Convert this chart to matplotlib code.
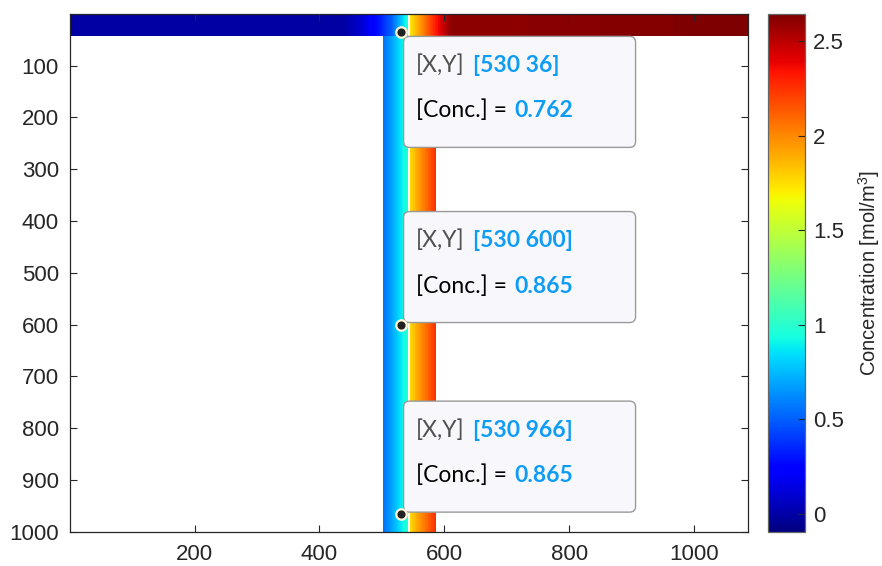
import numpy as np
import matplotlib
matplotlib.use("Agg")
import matplotlib.pyplot as plt
from matplotlib.patches import FancyBboxPatch
from matplotlib.transforms import IdentityTransform

# ---- data -------------------------------------------------------------
nx, ny = 1086, 1000              # grid size (cells)
channel_rows = 42                # depth of the top feed channel
gap_lo, gap_hi = 541.5, 545.5    # membrane gap (no data)

# concentration profile across the top channel (mol/m^3)
top_x = [0.5, 440, 470, 495, 515, 530, 541.5, 545.5, 565, 585, 610, 1086.5]
top_c = [0.0, 0.0, 0.12, 0.30, 0.50, 0.762, 1.0, 1.72, 2.0, 2.3, 2.6, 2.643]

# concentration profile across the vertical well (mol/m^3)
well_x = [501.5, 515, 530, 541.5, 545.5, 560, 575, 587.5]
well_c = [0.55, 0.68, 0.865, 1.0, 1.75, 1.95, 2.12, 2.28]

# data tips
tip_x = [530, 530, 530]
tip_y = [36, 600, 966]
tip_c = [0.762, 0.865, 0.865]

clim = (-0.095, 2.643)
x_ticks = [200, 400, 600, 800, 1000]
y_ticks = [100, 200, 300, 400, 500, 600, 700, 800, 900, 1000]
cb_ticks = [0, 0.5, 1, 1.5, 2, 2.5]
cb_ticklabels = ["0", "0.5", "1", "1.5", "2", "2.5"]

# ---- field ------------------------------------------------------------
xc = np.arange(1, nx + 1)
field = np.full((ny, nx), np.nan)
well_cols = (xc >= well_x[0]) & (xc <= well_x[-1])
field[:, well_cols] = np.interp(xc[well_cols], well_x, well_c)
field[:channel_rows, :] = np.interp(xc, top_x, top_c)
field[:, (xc > gap_lo) & (xc < gap_hi)] = np.nan

# ---- figure -----------------------------------------------------------
W, H = 882, 566
fig = plt.figure(figsize=(W / 100, H / 100), dpi=100)
ax = fig.add_axes([70 / W, 1 - 532 / H, (748 - 70) / W, (532 - 14) / H])
cax = fig.add_axes([768 / W, 1 - 532 / H, (805 - 768) / W, (532 - 14) / H])

tick_font = {"family": "Liberation Sans", "size": 16}
dark = (0.15, 0.15, 0.15)

im = ax.imshow(field, cmap="jet", vmin=clim[0], vmax=clim[1],
               extent=(0.5, nx + 0.5, ny + 0.5, 0.5), aspect="auto",
               interpolation="nearest")
ax.set_xlim(0.5, nx + 0.5)
ax.set_ylim(ny + 0.5, 0.5)
ax.set_xticks(x_ticks)
ax.set_yticks(y_ticks)
ax.set_xticklabels([str(v) for v in x_ticks], fontdict=tick_font, color=dark)
ax.set_yticklabels([str(v) for v in y_ticks], fontdict=tick_font, color=dark)
ax.tick_params(axis="both", direction="in", length=5, width=0.8, color=dark,
               top=True, right=True)
ax.tick_params(axis="x", pad=9)
ax.tick_params(axis="y", pad=8)
for s in ax.spines.values():
    s.set_color(dark)
    s.set_linewidth(0.9)

cb = fig.colorbar(im, cax=cax)
cb.set_ticks(cb_ticks)
cb.set_ticklabels(cb_ticklabels)
cax.tick_params(direction="in", length=5, width=0.8, color=dark, pad=6)
for lbl in cax.get_yticklabels():
    lbl.set_fontfamily("Liberation Sans")
    lbl.set_fontsize(16)
    lbl.set_color(dark)
cb.outline.set_edgecolor((0.4, 0.4, 0.4))
cb.outline.set_linewidth(0.9)
cax.text(2.72, 0.5, r"Concentration [mol/m$\mathregular{^3}$]", transform=cax.transAxes,
         rotation=90, ha="center", va="center", fontsize=14.5,
         family="Liberation Sans", color=dark)

# ---- data tips --------------------------------------------------------
tip_font = "Lato"
tip_size = 16.5
blue = "#0f9cf5"
box_w, box_h = 232, 111
fig.canvas.draw()
renderer = fig.canvas.get_renderer()
ident = IdentityTransform()


def chain(x, y, parts):
    for txt, col, weight, gap in parts:
        t = ax.text(x, y, txt, transform=ident, color=col, fontweight=weight,
                    family=tip_font, fontsize=tip_size, ha="left",
                    va="baseline", zorder=7, clip_on=False)
        x = t.get_window_extent(renderer).x1 + gap


for i, (tx, ty, tc) in enumerate(zip(tip_x, tip_y, tip_c)):
    mx, my = ax.transData.transform((tx, ty))
    left = mx + 3
    if i == 0:
        top = my - 4
    else:
        top = my + 2 + box_h
    box = FancyBboxPatch((left, top - box_h), box_w, box_h,
                         boxstyle="round,pad=0,rounding_size=6",
                         transform=ident, facecolor="#f8f8fc",
                         edgecolor="#9a9a9a", linewidth=1.0, zorder=5,
                         clip_on=False)
    ax.add_artist(box)
    chain(left + 12, top - 35.5,
          [("[X,Y]", "#505050", "normal", 9),
           (f"[{tx} {ty}]", blue, "bold", 0)])
    chain(left + 12, top - 81,
          [("[Conc.] =", "black", "normal", 8),
           (f"{tc:.3f}", blue, "bold", 0)])
    ax.plot([tx], [ty], "o", ms=7.5, mfc="#222222", mec="#fff6d8", mew=1.6,
            zorder=8, clip_on=False)

fig.savefig("out.png", dpi=100)
